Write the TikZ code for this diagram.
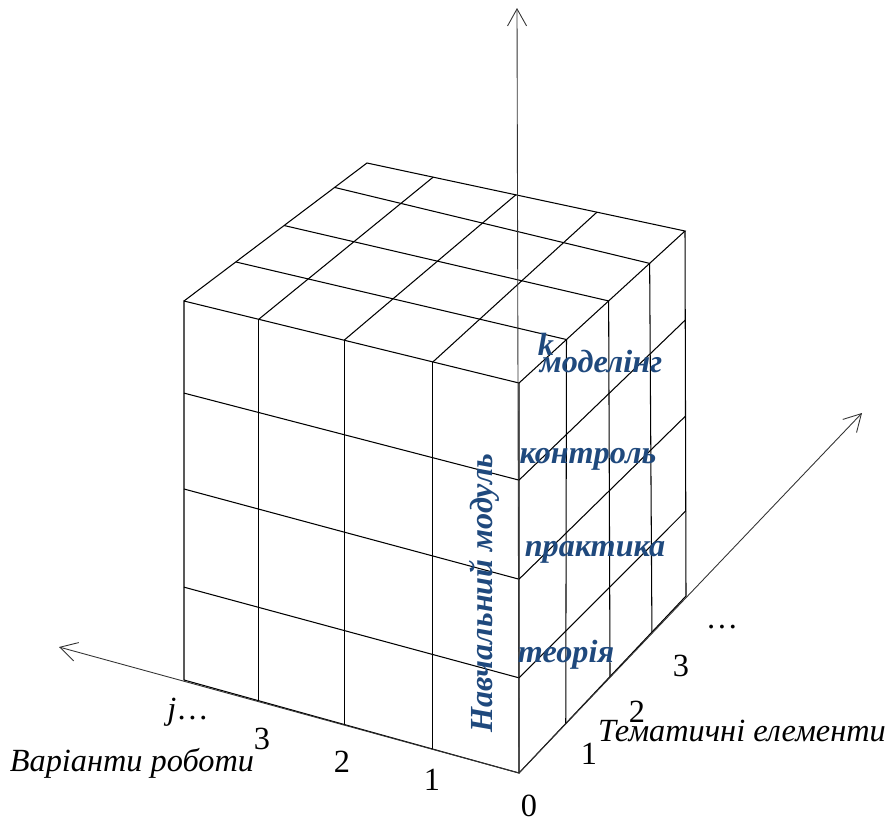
\documentclass[tikz,border=0pt]{standalone}
\usepackage{fontspec}
\setmainfont{Liberation Serif}
\usepackage{xcolor}
\usepackage{tikz}
\usetikzlibrary{arrows.meta, calc}
\definecolor{labelblue}{RGB}{31, 73, 125}

\begin{document}
\begin{tikzpicture}[x=0.02cm, y=-0.02cm, >={Straight Barb[length=3.4mm, width=3.8mm]},
   grid/.style={line width=0.6pt, black},
   axis/.style={->, line width=0.5pt, black!80},
   num/.style={font=\fontsize{18.4}{22}\selectfont, inner sep=0pt},
   caption/.style={font=\fontsize{18.4}{22}\selectfont\itshape, inner sep=0pt},
   layer/.style={font=\fontsize{18.3}{22}\selectfont\bfseries\itshape, text=labelblue, inner sep=0pt}]
  \useasboundingbox (0,0) rectangle (889,819);
  % cube corners
  \coordinate (ftl) at (184,301);
  \coordinate (ftr) at (519,383);
  \coordinate (fbl) at (184,680);
  \coordinate (o) at (519,773);
  \coordinate (btl) at (367,163);
  \coordinate (btr) at (685,231);
  \coordinate (bbr) at (686,596);
  % axis ends
  \coordinate (ztip) at (517,8);
  \coordinate (jtip) at (59,647);
  \coordinate (itip) at (862,413);

  % front face
  \draw[grid] (ftl) -- (ftr) -- (o) -- (fbl) -- cycle;
  \foreach \f in {.223, .478, .743}
    \draw[grid] ($(ftl)!\f!(ftr)$) -- ($(fbl)!\f!(o)$);
  \foreach \f/\g in {.243/.249, .496/.503, .755/.756}
    \draw[grid] ($(ftl)!\f!(fbl)$) -- ($(ftr)!\g!(o)$);
  % top face
  \draw[grid] (ftl) -- (btl) -- (btr) -- (ftr);
  \foreach \f/\g in {.223/.208, .478/.468, .743/.723}
    \draw[grid] ($(ftl)!\f!(ftr)$) -- ($(btl)!\g!(btr)$);
  \foreach \f/\g in {.283/.286, .547/.54, .823/.787}
    \draw[grid] ($(ftl)!\f!(btl)$) -- ($(ftr)!\g!(btr)$);
  % right face
  \draw[grid] (btr) -- (bbr) -- (o);
  \foreach \f/\g in {.286/.28, .54/.545, .787/.796}
    \draw[grid] ($(ftr)!\f!(btr)$) -- ($(o)!\g!(bbr)$);
  \foreach \f/\g in {.249/.244, .503/.507, .756/.767}
    \draw[grid] ($(ftr)!\f!(o)$) -- ($(btr)!\g!(bbr)$);

  % axes
  \draw[axis] (o) -- (ztip);
  \draw[axis] (o) -- (jtip);
  \draw[axis] (o) -- (itip);

  \node[layer] (k) at (546,344) {k};
  \node[layer] (model) at (601,361) {моделінг};
  \node[layer] (control) at (588,459) {контроль};
  \node[layer] (practice) at (595,552) {практика};
  \node[layer] (theory) at (566,655) {теорія};
  \node[layer, rotate=90] (module) at (484,593) {Навчальний модуль};

  \node[num] (j0) at (188,712) {{\itshape j}…};
  \node[num] (j3) at (262,739) {3};
  \node[num] (j2) at (342,762) {2};
  \node[num] (j1) at (432,780) {1};
  \node[num] (zero) at (529,806) {0};
  \node[num] (i1) at (589,754) {1};
  \node[num] (i2) at (637,712) {2};
  \node[num] (i3) at (681,666) {3};
  \node[num] (idots) at (722,627) {…};
  \node[caption] (jname) at (132,763) {Варіанти роботи};
  \node[caption] (iname) at (742,731) {Тематичні елементи};
\end{tikzpicture}
\end{document}
